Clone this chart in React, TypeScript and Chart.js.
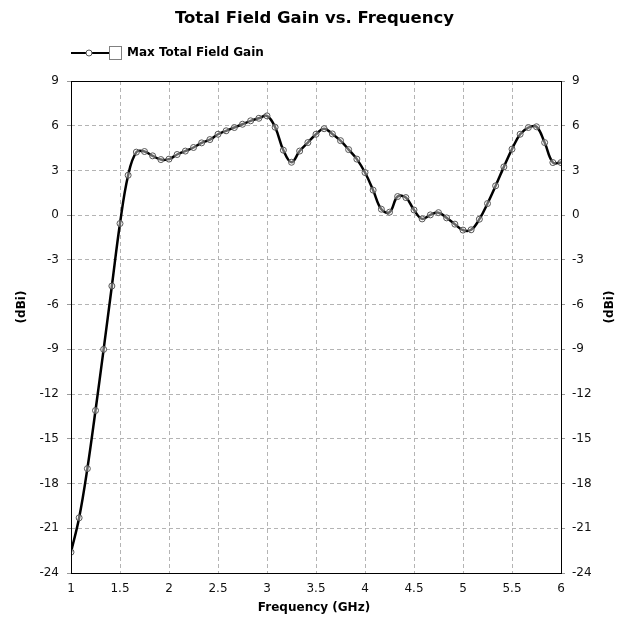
import React, { useEffect, useRef } from 'react';
import { Chart, registerables } from 'chart.js';

Chart.register(...registerables);

const TITLE = 'Total Field Gain vs. Frequency';
const SERIES_NAME = 'Max Total Field Gain';
const X_TITLE = 'Frequency (GHz)';
const Y_TITLE = '(dBi)';

const FREQ_GHZ = [
  1, 1.083, 1.167, 1.25, 1.333, 1.417, 1.5, 1.583, 1.667, 1.75, 1.833, 1.917,
  2, 2.083, 2.167, 2.25, 2.333, 2.417, 2.5, 2.583, 2.667, 2.75, 2.833, 2.917,
  3, 3.083, 3.167, 3.25, 3.333, 3.417, 3.5, 3.583, 3.667, 3.75, 3.833, 3.917,
  4, 4.083, 4.167, 4.25, 4.333, 4.417, 4.5, 4.583, 4.667, 4.75, 4.833, 4.917,
  5, 5.083, 5.167, 5.25, 5.333, 5.417, 5.5, 5.583, 5.667, 5.75, 5.833, 5.917,
  6,
];

const GAIN_DBI = [
  -22.6, -20.3, -17.0, -13.1, -9.0, -4.75, -0.56, 2.68, 4.23, 4.27, 3.98, 3.73,
  3.76, 4.07, 4.3, 4.54, 4.85, 5.07, 5.43, 5.66, 5.88, 6.1, 6.33, 6.5,
  6.66, 5.9, 4.36, 3.55, 4.3, 4.87, 5.43, 5.8, 5.45, 5.0, 4.4, 3.76,
  2.86, 1.68, 0.4, 0.2, 1.25, 1.18, 0.35, -0.25, 0.02, 0.17, -0.18, -0.6,
  -1.0, -0.98, -0.27, 0.78, 1.97, 3.24, 4.43, 5.43, 5.88, 5.93, 4.87, 3.53,
  3.53,
];

const X_TICKS = [1, 1.5, 2, 2.5, 3, 3.5, 4, 4.5, 5, 5.5, 6];
const Y_TICKS = [-24, -21, -18, -15, -12, -9, -6, -3, 0, 3, 6, 9];

const FONT = '"DejaVu Sans", Verdana, sans-serif';
const GRID_COLOR = '#b4b4b4';

function makeLegendSymbol(): HTMLCanvasElement {
  const c = document.createElement('canvas');
  c.width = 113;
  c.height = 16;
  const g = c.getContext('2d') as CanvasRenderingContext2D;
  g.strokeStyle = '#000';
  g.lineWidth = 2;
  g.beginPath();
  g.moveTo(58, 8);
  g.lineTo(96, 8);
  g.stroke();
  g.beginPath();
  g.arc(76, 8, 3, 0, Math.PI * 2);
  g.fillStyle = '#fff';
  g.fill();
  g.lineWidth = 1;
  g.strokeStyle = '#555';
  g.stroke();
  g.fillStyle = '#fff';
  g.fillRect(96.5, 1.5, 12, 13);
  g.strokeStyle = '#808080';
  g.strokeRect(96.5, 1.5, 12, 13);
  return c;
}

const decorPlugin = {
  id: 'decor',
  afterDraw(chart: any) {
    const { ctx, chartArea: a } = chart;
    ctx.save();
    ctx.strokeStyle = '#000';
    ctx.lineWidth = 1;
    ctx.strokeRect(
      Math.round(a.left) + 0.5,
      Math.round(a.top) + 0.5,
      Math.round(a.right - a.left),
      Math.round(a.bottom - a.top)
    );
    ctx.fillStyle = '#000';
    ctx.font = `bold 12px ${FONT}`;
    ctx.textAlign = 'center';
    ctx.textBaseline = 'middle';
    ctx.fillText(X_TITLE, 314, 608);
    [22, 610].forEach((x) => {
      ctx.save();
      ctx.translate(x, 307);
      ctx.rotate(-Math.PI / 2);
      ctx.fillText(Y_TITLE, 0, 0);
      ctx.restore();
    });
    ctx.restore();
  },
};

export default function App() {
  const ref = useRef<HTMLCanvasElement>(null);

  useEffect(() => {
    const symbol = makeLegendSymbol();
    const yTicks = (scale: any) => {
      scale.ticks = Y_TICKS.map((v) => ({ value: v }));
    };
    const chart = new Chart(ref.current as HTMLCanvasElement, {
      type: 'line',
      data: {
        datasets: [
          {
            label: SERIES_NAME,
            data: FREQ_GHZ.map((f, i) => ({ x: f, y: GAIN_DBI[i] })),
            borderColor: '#000',
            borderWidth: 2.5,
            tension: 0.4,
            pointRadius: 3,
            pointBorderWidth: 1,
            pointBorderColor: '#555',
            pointBackgroundColor: 'rgba(255,255,255,0.4)',
            xAxisID: 'x',
            yAxisID: 'y',
          },
        ],
      },
      options: {
        responsive: false,
        animation: false,
        devicePixelRatio: 1,
        layout: { padding: 0 },
        plugins: {
          tooltip: { enabled: false },
          title: {
            display: true,
            text: TITLE,
            color: '#000',
            font: { family: FONT, size: 16.5, weight: 'bold', lineHeight: 1.2 },
            padding: { top: 9, bottom: 0.2 },
          },
          subtitle: {
            display: true,
            text: '',
            weight: 500,
            font: { size: 10, lineHeight: 1.2 },
            padding: 0,
          },
          legend: {
            display: true,
            position: 'top',
            align: 'start',
            labels: {
              usePointStyle: true,
              pointStyle: symbol as any,
              pointStyleWidth: 103,
              padding: 18,
              color: '#000',
              font: { family: FONT, size: 12, weight: 'bold' },
            },
          },
        },
        scales: {
          x: {
            type: 'linear',
            position: 'bottom',
            min: 1,
            max: 6,
            afterBuildTicks: (scale: any) => {
              scale.ticks = X_TICKS.map((v) => ({ value: v }));
            },
            afterFit: (scale: any) => {
              scale.height = 45;
            },
            ticks: {
              color: '#111',
              padding: 9,
              maxRotation: 0,
              autoSkip: false,
              font: { family: FONT, size: 12 },
              callback: (v: any) => String(v),
            },
            grid: {
              color: GRID_COLOR,
              lineWidth: 1,
              drawTicks: false,
              borderDash: [4, 3],
            } as any,
            border: { display: false, dash: [4, 3] },
          },
          y: {
            type: 'linear',
            position: 'left',
            min: -24,
            max: 9,
            afterBuildTicks: yTicks,
            afterFit: (scale: any) => {
              scale.width = 71;
            },
            ticks: {
              color: '#111',
              padding: 8,
              autoSkip: false,
              font: { family: FONT, size: 12 },
              callback: (v: any) => String(v),
            },
            grid: {
              color: GRID_COLOR,
              lineWidth: 1,
              drawTicks: true,
              tickLength: 4,
              tickColor: '#999',
              borderDash: [4, 3],
            } as any,
            border: { display: false, dash: [4, 3] },
          },
          y2: {
            type: 'linear',
            position: 'right',
            min: -24,
            max: 9,
            afterBuildTicks: yTicks,
            afterFit: (scale: any) => {
              scale.width = 68;
            },
            ticks: {
              color: '#111',
              padding: 7,
              autoSkip: false,
              font: { family: FONT, size: 12 },
              callback: (v: any) => String(v),
            },
            grid: {
              drawOnChartArea: false,
              drawTicks: true,
              tickLength: 4,
              tickColor: '#999',
            },
            border: { display: false },
          },
        },
      },
      plugins: [decorPlugin],
    });
    return () => chart.destroy();
  }, []);

  return (
    <div style={{ position: 'absolute', left: 0, top: 0, width: 629, height: 618, background: '#fff' }}>
      <canvas ref={ref} width={629} height={618} style={{ display: 'block', width: 629, height: 618 }} />
    </div>
  );
}
